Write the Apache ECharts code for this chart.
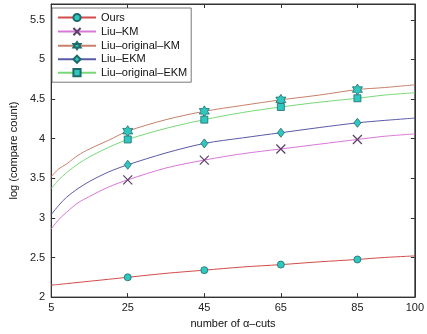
<!DOCTYPE html>
<html><head><meta charset="utf-8">
<script src="https://cdn.jsdelivr.net/npm/echarts@6/dist/echarts.min.js"></script>
<style>html,body{margin:0;padding:0;background:#fff}#c{width:427px;height:334px}</style>
</head><body><div id="c"></div>
<script>
// curve samples (x positions without markers)
var curveX = [5, 7, 9, 12, 15, 20, 35, 55, 75, 92, 100];
var oursCurve = [2.15, 2.16, 2.17, 2.185, 2.20, 2.225, 2.30, 2.38, 2.445, 2.50, 2.52];
var liuKMCurve = [2.86, 2.98, 3.07, 3.19, 3.27, 3.39, 3.63, 3.81, 3.93, 4.03, 4.06];
var liuOrigKMCurve = [3.52, 3.62, 3.68, 3.79, 3.87, 3.98, 4.24, 4.42, 4.55, 4.645, 4.68];
var liuEKMCurve = [3.04, 3.16, 3.26, 3.37, 3.46, 3.58, 3.82, 4.01, 4.14, 4.23, 4.26];
var liuOrigEKMCurve = [3.37, 3.48, 3.57, 3.68, 3.77, 3.89, 4.13, 4.33, 4.46, 4.55, 4.58];
// marker samples
var markerX = [25, 45, 65, 85];
var oursMarks = [2.25, 2.34, 2.41, 2.475];
var liuKMMarks = [3.48, 3.73, 3.87, 3.99];
var liuOrigKMMarks = [4.095, 4.345, 4.49, 4.62];
var liuEKMMarks = [3.67, 3.94, 4.075, 4.2];
var liuOrigEKMMarks = [3.99, 4.24, 4.40, 4.51];
var names = ['Ours', 'Liu\u2013KM', 'Liu\u2013original\u2013KM', 'Liu\u2013EKM', 'Liu\u2013original\u2013EKM'];
var xTicks = [5, 25, 45, 65, 85, 100];
var yTicks = [2, 2.5, 3, 3.5, 4, 4.5, 5, 5.5];

function build(curve, marks) {
  var pts = [];
  curveX.forEach(function (x, i) { pts.push({ value: [x, curve[i]], symbol: 'none' }); });
  markerX.forEach(function (x, i) { pts.push({ value: [x, marks[i]] }); });
  pts.sort(function (a, b) { return a.value[0] - b.value[0]; });
  return pts;
}
var hexagram = 'path://M0,-100L-28.9,-50L-86.6,-50L-57.7,0L-86.6,50L-28.9,50L0,100L28.9,50L86.6,50L57.7,0L86.6,-50L28.9,-50Z';
var cross = 'path://M0,0L10,10M10,0L0,10';
var cyan = '#2ec8c0', edge = '#1d6b6b';
var lineColors = ['#d24c4c', '#d878d8', '#c8806a', '#5a5aa8', '#78d878'];
var curves = [oursCurve, liuKMCurve, liuOrigKMCurve, liuEKMCurve, liuOrigEKMCurve];
var marks = [oursMarks, liuKMMarks, liuOrigKMMarks, liuEKMMarks, liuOrigEKMMarks];
var symbols = ['circle', cross, hexagram, 'diamond', 'rect'];
var sizes = [7, 9, [10, 11], [7, 9], 7];
var series = names.map(function (n, i) {
  var isCross = i === 1;
  return {
    name: n, type: 'line', smooth: 0.3, data: build(curves[i], marks[i]),
    symbol: symbols[i], symbolSize: sizes[i], showSymbol: true,
    lineStyle: { color: lineColors[i], width: 1 },
    itemStyle: isCross ? { color: 'none', borderColor: '#5c4068', borderWidth: 1.2 }
                       : { color: cyan, borderColor: edge, borderWidth: 0.8 },
    emphasis: { disabled: true }, z: 3
  };
});
var font = 'Liberation Sans, Arial, sans-serif';
var chart = echarts.init(document.getElementById('c'), null, { renderer: 'canvas' });
chart.setOption({
  animation: false,
  backgroundColor: '#fff',
  grid: { left: 46, right: 7, top: 4, bottom: 36, show: true, borderColor: '#333', borderWidth: 1 },
  legend: {
    orient: 'vertical', left: 52, top: 8, data: names,
    backgroundColor: '#fff', borderColor: '#555', borderWidth: 0.8, padding: [4, 4, 4, 5],
    itemWidth: 38, itemHeight: 9, itemGap: 2.5,
    textStyle: { fontFamily: font, fontSize: 11, color: '#111' }
  },
  xAxis: [{
    type: 'value', min: 5, max: 100,
    name: 'number of \u03b1\u2013cuts', nameLocation: 'middle', nameGap: 18,
    nameTextStyle: { fontFamily: font, fontSize: 11, color: '#111' },
    axisLine: { lineStyle: { color: '#333' } },
    axisTick: { inside: true, length: 4, customValues: xTicks, lineStyle: { color: '#333' } },
    axisLabel: { customValues: xTicks, fontFamily: font, fontSize: 11, color: '#222', margin: 5 },
    splitLine: { show: false }
  }, {
    type: 'value', min: 5, max: 100, position: 'top',
    axisLine: { lineStyle: { color: '#333' } },
    axisTick: { inside: true, length: 4, customValues: xTicks, lineStyle: { color: '#333' } },
    axisLabel: { show: false }, splitLine: { show: false }
  }],
  yAxis: [{
    type: 'value', min: 2, max: 5.7,
    name: 'log (compare count)', nameLocation: 'middle', nameGap: 24,
    nameTextStyle: { fontFamily: font, fontSize: 11, color: '#111' },
    axisLine: { show: true, lineStyle: { color: '#333' } },
    axisTick: { show: true, inside: true, length: 4, customValues: yTicks, lineStyle: { color: '#333' } },
    axisLabel: { customValues: yTicks, fontFamily: font, fontSize: 11, color: '#222', margin: 6 },
    splitLine: { show: false }
  }, {
    type: 'value', min: 2, max: 5.7, position: 'right',
    axisLine: { show: true, lineStyle: { color: '#333' } },
    axisTick: { show: true, inside: true, length: 4, customValues: yTicks, lineStyle: { color: '#333' } },
    axisLabel: { show: false }, splitLine: { show: false }
  }],
  series: series
});
</script></body></html>
